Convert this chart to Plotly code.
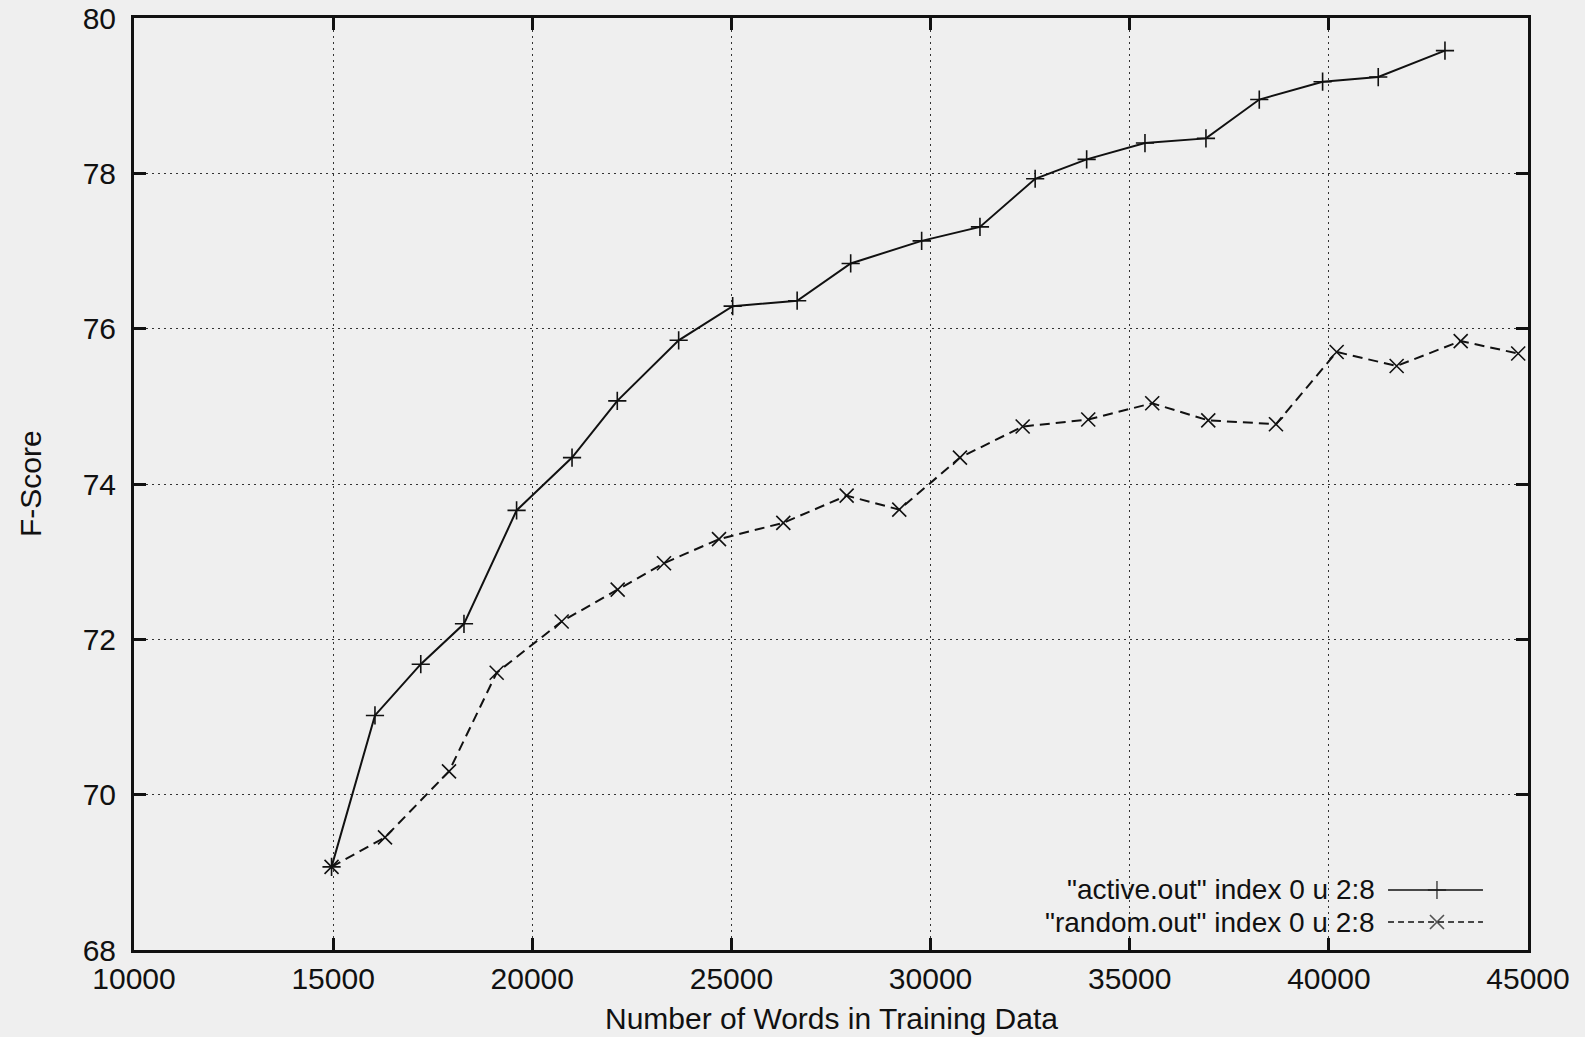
import plotly.graph_objects as go

# ---- data ----
active_x = [14960, 16050, 17200, 18285, 19606, 20998, 22134, 23675, 25031, 26650, 27994,
            29776, 31240, 32626, 33919, 35383, 36914, 38253, 39843, 41240, 42915]
active_y = [69.07, 71.02, 71.68, 72.20, 73.66, 74.34, 75.07, 75.85, 76.29, 76.36, 76.84,
            77.13, 77.31, 77.93, 78.18, 78.39, 78.45, 78.95, 79.18, 79.24, 79.58]

random_x = [14960, 16302, 17909, 19106, 20738, 22144, 23307, 24688, 26302, 27893, 29214,
            30738, 32312, 33959, 35565, 36972, 38672, 40196, 41702, 43310, 44754]
random_y = [69.07, 69.45, 70.30, 71.57, 72.23, 72.64, 72.98, 73.29, 73.50, 73.85, 73.67,
            74.34, 74.74, 74.83, 75.04, 74.82, 74.77, 75.70, 75.52, 75.84, 75.68]

x_ticks = [10000, 15000, 20000, 25000, 30000, 35000, 40000, 45000]
y_ticks = [68, 70, 72, 74, 76, 78, 80]

series_names = ['"active.out" index 0 u 2:8', '"random.out" index 0 u 2:8']
x_title = "Number of Words in Training Data"
y_title = "F-Score"

BG = "#efefef"
INK = "#111111"
FONT = "Liberation Sans, Arial, Helvetica, sans-serif"

fig = go.Figure()

fig.add_trace(go.Scatter(
    x=active_x, y=active_y, mode="lines+markers", name=series_names[0],
    line=dict(color=INK, width=2),
    marker=dict(symbol="cross-thin-open", size=13, line=dict(color=INK, width=1.6)),
    showlegend=False,
))
fig.add_trace(go.Scatter(
    x=random_x, y=random_y, mode="lines+markers", name=series_names[1],
    line=dict(color=INK, width=2, dash="10px,6px"),
    marker=dict(symbol="x-thin-open", size=14, line=dict(color=INK, width=1.6)),
    showlegend=False,
))

# ---- gnuplot-style key (text on the left, sample on the right) ----
key_rows = [0.0644, 0.030]
key_text_x = 0.8917
key_line = [0.8996, 0.9347, 0.9677]
styles = [
    (dict(color=INK, width=1.5), "cross-thin-open", 13),
    (dict(color=INK, width=1.5, dash="6px,4px"), "x-thin-open", 14),
]
for name, yk, (ls, sym, sz) in zip(series_names, key_rows, styles):
    fig.add_trace(go.Scatter(
        x=key_line, y=[yk] * 3, xaxis="x2", yaxis="y2", mode="lines+markers",
        line=ls, marker=dict(symbol=sym, size=[0, sz, 0], line=dict(color=INK, width=1.6)),
        showlegend=False, hoverinfo="skip",
    ))
    fig.add_annotation(x=key_text_x, y=yk, xref="paper", yref="paper",
                       xanchor="right", yanchor="middle", showarrow=False,
                       text=name, font=dict(family=FONT, size=28, color=INK))

# mask the grid behind the key (drawn above grid, below data)
fig.add_shape(type="rect", xref="paper", yref="paper", x0=0.55, x1=1.0, y0=0.0, y1=0.078,
              layer="between", line=dict(width=0), fillcolor=BG)

# axis titles
fig.add_annotation(x=0.5, y=-0.073, xref="paper", yref="paper", showarrow=False,
                   xanchor="center", yanchor="middle", text=x_title,
                   font=dict(family=FONT, size=30, color=INK))
fig.add_annotation(x=-0.0746, y=0.5, xref="paper", yref="paper", showarrow=False,
                   xanchor="center", yanchor="middle", text=y_title, textangle=-90,
                   font=dict(family=FONT, size=30, color=INK))

axis_common = dict(
    showline=True, linecolor=INK, linewidth=3, mirror="ticks",
    ticks="inside", ticklen=12, tickwidth=3, tickcolor=INK,
    showgrid=True, gridcolor="#333333", gridwidth=1.3, griddash="2px,4px",
    zeroline=False, tickfont=dict(family=FONT, size=30, color=INK),
    automargin=False,
)

fig.update_layout(
    width=1585, height=1037,
    margin=dict(l=134, r=57, t=18, b=87),
    paper_bgcolor=BG, plot_bgcolor=BG,
    showlegend=False,
    xaxis=dict(range=[10000, 45000], tickvals=x_ticks, ticktext=[str(v) for v in x_ticks],
               ticklabelstandoff=0, **axis_common),
    yaxis=dict(range=[68, 80], tickvals=y_ticks, ticktext=[str(v) for v in y_ticks],
               ticklabelstandoff=9, **axis_common),
    xaxis2=dict(range=[0, 1], overlaying="x", visible=False, fixedrange=True),
    yaxis2=dict(range=[0, 1], overlaying="y", visible=False, fixedrange=True),
)

fig.write_html("out.html", config={"displayModeBar": False},
               post_script="document.body.style.margin='0';document.body.style.background='%s';" % BG)
